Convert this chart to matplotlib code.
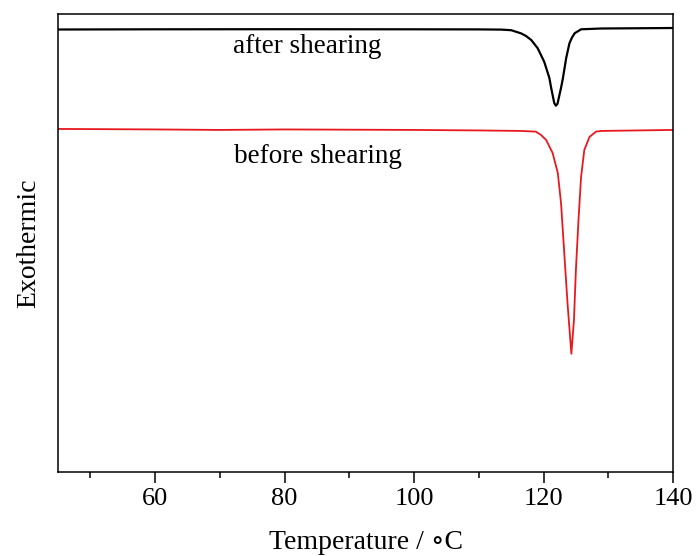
import matplotlib.pyplot as plt
from matplotlib.ticker import MultipleLocator

# DSC traces (heat flow in arbitrary units, exo up)
temp_after = [45, 60, 80, 100, 110, 113.4, 115.0, 116.5, 117.3, 118.1, 119.1, 120.1, 120.9, 121.15,
              121.4, 121.65, 121.9, 122.15, 122.4, 122.7, 123.0, 123.5, 124.0, 124.4, 124.8, 125.8,
              128.9, 140]
flow_after = [4.425, 4.427, 4.428, 4.427, 4.426, 4.424, 4.418, 4.387, 4.360, 4.320, 4.237, 4.103, 3.940, 3.850,
              3.770, 3.690, 3.663, 3.680, 3.753, 3.840, 3.940, 4.140, 4.287, 4.345, 4.387, 4.427,
              4.435, 4.440]

temp_before = [45, 60, 70, 80, 100, 110, 116.5, 118.8, 119.6, 120.4, 121.4, 122.2, 122.7,
               123.2, 123.7, 124.3, 124.7, 125.0, 125.4, 125.8, 126.3, 127.1, 128.1, 128.9, 140]
flow_before = [3.430, 3.425, 3.420, 3.425, 3.420, 3.415, 3.410, 3.403, 3.370, 3.320, 3.190, 2.990, 2.690,
               2.190, 1.690, 1.180, 1.520, 2.020, 2.520, 2.950, 3.220, 3.350, 3.403, 3.410, 3.420]

plt.rcParams['font.family'] = ['Liberation Serif', 'DejaVu Serif']

fig = plt.figure(figsize=(6.98, 5.56), dpi=100)
ax = fig.add_axes([0.0831, 0.1516, 0.8811, 0.8232])

ax.plot(temp_after, flow_after, color='black', lw=1.6)
ax.plot(temp_before, flow_before, color='#e8191e', lw=1.3)

ax.text(83.5, 4.25, 'after shearing', fontsize=19.5, ha='center', va='center')
ax.text(85.1, 3.15, 'before shearing', fontsize=19.5, ha='center', va='center')

ax.set_xlim(45, 140)
ax.set_ylim(0, 4.58)
ax.xaxis.set_major_locator(MultipleLocator(20))
ax.xaxis.set_minor_locator(MultipleLocator(10))
ax.tick_params(axis='x', which='major', direction='out', length=8, width=1.1,
               labelsize=19, pad=4)
ax.tick_params(axis='x', which='minor', direction='out', length=4.5, width=1.1)
ax.set_yticks([])
for s in ax.spines.values():
    s.set_linewidth(1.1)

ax.set_xlabel('Temperature / \u2218C', fontsize=20, labelpad=14)
ax.set_ylabel('Exothermic', fontsize=20, labelpad=12)

plt.savefig('out.png', dpi=100)
